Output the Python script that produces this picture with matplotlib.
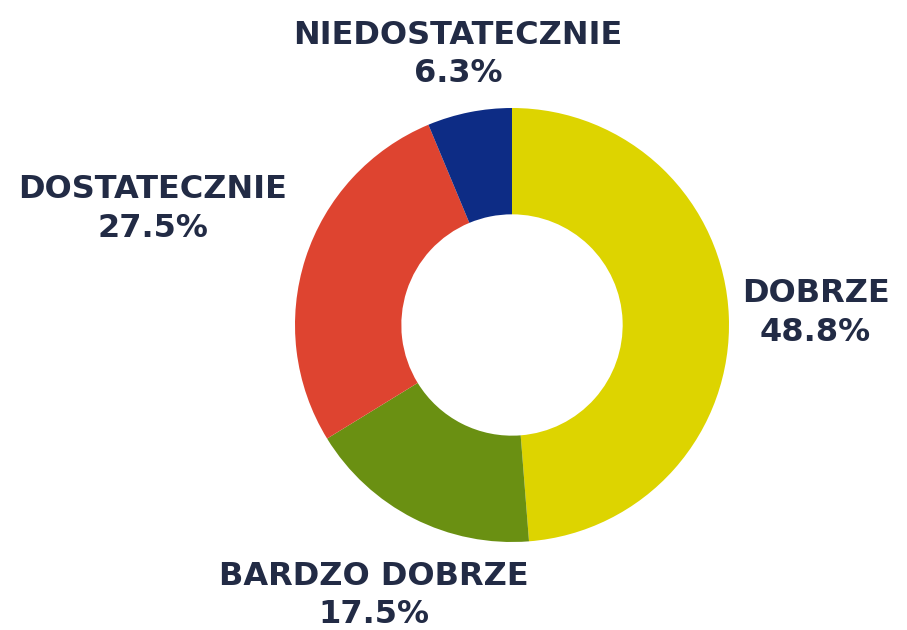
import matplotlib.pyplot as plt
import numpy as np

labels = ["DOBRZE", "BARDZO DOBRZE", "DOSTATECZNIE", "NIEDOSTATECZNIE"]
values = [48.8, 17.5, 27.5, 6.3]
colors = ["#DDD400", "#6A9012", "#DE4430", "#0D2C85"]

# label distance from centre, in pie radii (reference places them unevenly)
label_dist = [1.40, 1.40, 1.74, 1.27]
text_color = "#222B45"

W, H = 907, 630
cx, cy, R = 512, 325, 217

fig = plt.figure(figsize=(W / 100, H / 100), dpi=100)
ax = fig.add_axes([0, 0, 1, 1])
ax.axis("off")

wedges, _ = ax.pie(values, colors=colors, startangle=90, counterclock=False,
                   radius=1, wedgeprops=dict(width=0.49, linewidth=0))
ax.set_aspect("equal")
ax.set_xlim(-cx / R, (W - cx) / R)
ax.set_ylim(-(H - cy) / R, cy / R)

for w, lab, v, d in zip(wedges, labels, values, label_dist):
    ang = np.deg2rad((w.theta1 + w.theta2) / 2)
    x, y = d * np.cos(ang), d * np.sin(ang)
    ax.text(x, y, f"{lab}\n{v}%", ha="center", va="center", fontsize=23,
            fontweight="bold", color=text_color, linespacing=1.3,
            family="DejaVu Sans")

fig.savefig("out.png", dpi=100)
